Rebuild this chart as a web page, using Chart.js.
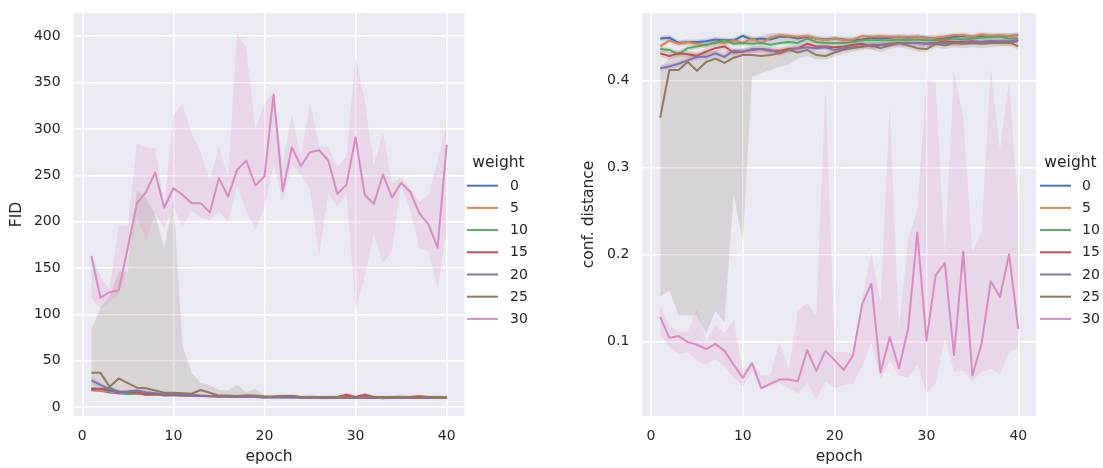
<!DOCTYPE html>
<html>
<head>
<meta charset="utf-8">
<script src="https://cdn.jsdelivr.net/npm/chart.js@4.4.1/dist/chart.umd.min.js"></script>
<style>
  body { margin: 0; background: #fff; width: 1103px; height: 468px; overflow: hidden; position: relative; }
  canvas { position: absolute; top: 0; }
</style>
</head>
<body>
<canvas id="fidChart" width="560" height="468" style="left:0"></canvas>
<canvas id="confChart" width="543" height="468" style="left:560px"></canvas>
<script>
const epochs = [1,2,3,4,5,6,7,8,9,10,11,12,13,14,15,16,17,18,19,20,21,22,23,24,25,26,27,28,29,30,31,32,33,34,35,36,37,38,39,40];
const weights = ['0', '5', '10', '15', '20', '25', '30'];
const colors = ['#4c72b0', '#dd8452', '#55a868', '#c44e52', '#8172b3', '#937860', '#da8bc3'];
const xTicks = [0, 10, 20, 30, 40];
const fidTicks = [0, 50, 100, 150, 200, 250, 300, 350, 400];
const confTicks = [0.1, 0.2, 0.3, 0.4];

// FID (left panel): mean, lower and upper band per weight
const fid0   = [18.5,18,16,15,14.5,15,13.5,13.5,13,13,12.5,12.5,12,12,11.5,11.5,11,11.5,11,11,11,10.5,11,10.5,10.5,10.5,10.5,10,10.5,10.5,10,10.5,10,10,10.5,10,10,10,10,10];
const fid0Lo = [17,16.5,14.5,13.5,13,13.5,12.5,12.5,11.5,12,11.5,11.5,11,11,10.5,10.5,10,10.5,10,10,10,9.5,10,9.5,9.5,9.5,9.5,9,9.5,9.5,9,9.5,9,9,9.5,9,9,9,9,9];
const fid0Hi = [20,19.5,17.5,16.5,16,16.5,15,15,16,14.5,13.5,13.5,13,13,12.5,12.5,12,12.5,12,12,12,11.5,12,11.5,11.5,11.5,11.5,11,11.5,11.5,11,11.5,11,11,11.5,11,11,11,11,11];
const fid5   = [19,18,17,15.5,15,14.5,14,13.5,13,13.5,13,12.5,12,11.5,11.5,12,11,11,11.5,10.5,11,11,11.5,11,11,10.5,11,10.5,11,11,11,11,10.5,11,11,11,11.5,11,10.5,11];
const fid5Lo = [17.5,16.5,15.5,14,13.5,13,12.5,12,12,12.5,12,11.5,11,10.5,10.5,11,10,10,10.5,9.5,10,10,10.5,10,10,9.5,10,9.5,10,10,10,10,9.5,10,10,10,10.5,10,9.5,10];
const fid5Hi = [20.5,19.5,19,17,16.5,16,15.5,15,14,14.5,14,13.5,13,12.5,12.5,13,12,12,12.5,11.5,12,12,12.5,12,12,11.5,12,11.5,12,12,12,12,11.5,12,12,12,12.5,12,11.5,12];
const fid10   = [20,19.5,21,16.5,14.5,15,14,14,13,13,13,12.5,12,12,12,11.5,11.5,11,11.5,11,11,11,11.5,11,11,10.5,10.5,11,11,10.5,10.5,10.5,9.5,10.5,10.5,10.5,10.5,10.5,10.5,10.5];
const fid10Lo = [18.5,18,19,15,13,13.5,12.5,12.5,12,12,12,11.5,11,11,11,10.5,10.5,10,10.5,10,10,10,10.5,10,10,9.5,9.5,10,10,9.5,9.5,9.5,8.5,9.5,9.5,9.5,9.5,9.5,9.5,9.5];
const fid10Hi = [21.5,21,23,18,16,16.5,15.5,15.5,14,14,14,13.5,13,13,13,12.5,12.5,12,12.5,12,12,12,12.5,12,12,11.5,11.5,12,12,11.5,11.5,11.5,10.5,11.5,11.5,11.5,11.5,11.5,11.5,11.5];
const fid15   = [20,19.5,18,17,16.5,16,14,14.5,13.5,13.5,13,12.5,12,12,12,12,11.5,12,11,11,11,11.5,11.5,10.5,11,11,11,11,13.5,11,13.5,11,11,11,11,11,11.5,11,11,11];
const fid15Lo = [18.5,18,16.5,15.5,15,14.5,12.5,13,12.5,12.5,12,11.5,11,11,11,11,10.5,11,10,10,10,10.5,10.5,9.5,10,10,10,10,11.5,10,11.5,10,10,10,10,10,10.5,10,10,10];
const fid15Hi = [21.5,21,19.5,18.5,18,17.5,15.5,16,14.5,14.5,14,13.5,13,13,13,13,12.5,13,12,12,12,12.5,12.5,11.5,12,12,12,12,15.5,12,15.5,12,12,12,12,12,12.5,12,12,12];
const fid20   = [29,24,19,15.5,17,18,16,15,14,14,13.5,13,12.5,12,11.5,11.5,11,11,11,10.5,10.5,11,10.5,10.5,10,10.5,10,10,10,10,10,10,10,10,10,10,10,10,10,10];
const fid20Lo = [25,21,17,14,15.5,16.5,14.5,13.5,13,13,12.5,12,11.5,11,10.5,10.5,10,10,10,9.5,9.5,10,9.5,9.5,9,9.5,9,9,9,9,9,9,9,9,9,9,9,9,9,9];
const fid20Hi = [33,27,21,17,18.5,19.5,17.5,16.5,15,15,14.5,14,13.5,13,12.5,12.5,12,12,12,11.5,11.5,12,11.5,11.5,11,11.5,11,11,11,11,11,11,11,11,11,11,11,11,11,11];
const fid25   = [37,37,22,31,26,21,20.5,18,15.5,15.5,15,14.5,18.5,15.5,12.5,12.5,12,13,12.5,11.5,11.5,12,12,11,11,10.5,11,11,11,11,11.5,11,10.5,11,11,11,10,11,11,11];
const fid25Lo = [17,16,16,15,14,14,13.5,13,12.5,12.5,12.5,12,12,12,11,11,10.5,11,10.5,10,10,10.5,10.5,9.5,9.5,9.5,9.5,9.5,9.5,9.5,10,9.5,9.5,9.5,9.5,9.5,8.5,9.5,9.5,9.5];
const fid25Hi = [84,107,120,146,146,234,226,208,171,224,66,37,26,24,18.5,18.5,24,16,19.5,13.5,13.5,14,14,13,14,12,12.5,12.5,12.5,12.5,13,12.5,12,12.5,14,12.5,12,13,12.5,12];
const fid30   = [163,118,124,126,172,220,232,253,215,236,229,220,220,210,247,227,256,266,239,249,337,233,280,260,275,277,266,230,240,291,229,219,251,226,242,232,209,197,172,283];
const fid30Lo = [118,106,113,122,150,205,180,209,193,216,195,212,204,202,211,200,238,212,191,215,263,222,262,250,234,164,230,216,229,107,141,187,155,169,240,212,171,168,127,193];
const fid30Hi = [166,140,127,196,195,284,280,279,218,315,327,295,274,245,281,248,403,387,300,327,340,262,315,270,329,281,281,259,270,378,331,261,296,241,248,236,221,229,266,306];

// conf. distance (right panel)
const conf0   = [0.448,0.449,0.443,0.444,0.444,0.445,0.447,0.446,0.446,0.451,0.447,0.448,0.447,0.450,0.450,0.448,0.450,0.448,0.447,0.448,0.447,0.446,0.447,0.449,0.448,0.449,0.450,0.449,0.450,0.449,0.448,0.449,0.450,0.451,0.450,0.451,0.451,0.451,0.451,0.452];
const conf0Lo = [0.445,0.446,0.440,0.441,0.441,0.442,0.444,0.443,0.443,0.447,0.444,0.445,0.444,0.446,0.446,0.445,0.447,0.445,0.444,0.445,0.444,0.443,0.444,0.446,0.445,0.446,0.447,0.446,0.447,0.446,0.445,0.446,0.447,0.448,0.447,0.448,0.448,0.448,0.448,0.449];
const conf0Hi = [0.451,0.452,0.446,0.447,0.447,0.448,0.450,0.449,0.449,0.454,0.450,0.451,0.454,0.454,0.453,0.451,0.453,0.451,0.450,0.451,0.450,0.449,0.450,0.452,0.451,0.452,0.453,0.452,0.453,0.452,0.451,0.452,0.453,0.454,0.453,0.454,0.454,0.454,0.454,0.455];
const conf5   = [0.439,0.446,0.442,0.444,0.442,0.440,0.444,0.443,0.446,0.443,0.448,0.443,0.449,0.452,0.451,0.450,0.451,0.448,0.446,0.448,0.446,0.447,0.451,0.450,0.451,0.450,0.450,0.450,0.450,0.448,0.449,0.450,0.452,0.452,0.450,0.453,0.451,0.452,0.451,0.452];
const conf5Lo = [0.436,0.443,0.439,0.441,0.439,0.437,0.441,0.440,0.443,0.440,0.445,0.440,0.446,0.449,0.448,0.447,0.448,0.445,0.443,0.445,0.443,0.444,0.448,0.447,0.448,0.447,0.447,0.447,0.447,0.445,0.446,0.447,0.449,0.449,0.447,0.450,0.448,0.449,0.448,0.449];
const conf5Hi = [0.442,0.449,0.445,0.447,0.445,0.443,0.447,0.446,0.449,0.446,0.451,0.446,0.452,0.455,0.454,0.453,0.454,0.451,0.449,0.451,0.449,0.450,0.454,0.453,0.454,0.453,0.453,0.453,0.453,0.451,0.452,0.453,0.455,0.455,0.453,0.456,0.454,0.455,0.454,0.455];
const conf10   = [0.436,0.435,0.430,0.437,0.439,0.441,0.443,0.446,0.442,0.443,0.442,0.443,0.441,0.443,0.444,0.443,0.448,0.444,0.443,0.443,0.443,0.444,0.446,0.446,0.446,0.446,0.447,0.446,0.447,0.446,0.446,0.447,0.448,0.447,0.448,0.449,0.450,0.450,0.448,0.448];
const conf10Lo = [0.433,0.432,0.427,0.434,0.436,0.438,0.440,0.443,0.439,0.440,0.439,0.440,0.438,0.440,0.441,0.440,0.445,0.441,0.440,0.440,0.440,0.441,0.443,0.443,0.443,0.443,0.444,0.443,0.444,0.443,0.443,0.444,0.445,0.444,0.445,0.446,0.447,0.447,0.445,0.445];
const conf10Hi = [0.439,0.438,0.433,0.440,0.442,0.444,0.446,0.449,0.445,0.446,0.445,0.446,0.444,0.446,0.447,0.446,0.451,0.447,0.446,0.446,0.446,0.447,0.449,0.449,0.449,0.449,0.450,0.449,0.450,0.449,0.449,0.450,0.451,0.450,0.451,0.452,0.453,0.453,0.451,0.451];
const conf15   = [0.431,0.428,0.431,0.430,0.428,0.433,0.437,0.439,0.432,0.433,0.435,0.436,0.434,0.434,0.436,0.437,0.442,0.439,0.439,0.438,0.439,0.441,0.442,0.439,0.441,0.442,0.443,0.443,0.443,0.442,0.443,0.445,0.444,0.444,0.445,0.444,0.445,0.444,0.443,0.446];
const conf15Lo = [0.427,0.424,0.427,0.426,0.424,0.429,0.433,0.435,0.428,0.429,0.431,0.432,0.430,0.430,0.432,0.433,0.438,0.435,0.435,0.434,0.435,0.437,0.438,0.435,0.437,0.438,0.439,0.439,0.439,0.438,0.439,0.441,0.440,0.440,0.441,0.440,0.441,0.440,0.439,0.442];
const conf15Hi = [0.435,0.432,0.435,0.434,0.432,0.437,0.441,0.443,0.436,0.437,0.439,0.440,0.438,0.438,0.440,0.441,0.446,0.443,0.443,0.442,0.443,0.445,0.446,0.443,0.445,0.446,0.447,0.447,0.447,0.446,0.447,0.449,0.448,0.448,0.449,0.448,0.449,0.448,0.447,0.450];
const conf20   = [0.414,0.416,0.419,0.423,0.427,0.427,0.431,0.427,0.434,0.433,0.436,0.436,0.435,0.431,0.435,0.437,0.438,0.437,0.438,0.435,0.437,0.438,0.439,0.441,0.441,0.441,0.443,0.443,0.443,0.442,0.443,0.443,0.443,0.443,0.444,0.444,0.445,0.445,0.445,0.446];
const conf20Lo = [0.411,0.413,0.416,0.420,0.424,0.424,0.428,0.424,0.431,0.430,0.433,0.433,0.432,0.428,0.432,0.434,0.435,0.434,0.435,0.432,0.434,0.435,0.436,0.438,0.438,0.438,0.440,0.440,0.440,0.439,0.440,0.440,0.440,0.440,0.441,0.441,0.442,0.442,0.442,0.443];
const conf20Hi = [0.417,0.419,0.422,0.426,0.430,0.430,0.434,0.430,0.437,0.436,0.439,0.439,0.438,0.434,0.438,0.440,0.441,0.440,0.441,0.438,0.440,0.441,0.442,0.444,0.444,0.444,0.446,0.446,0.446,0.445,0.446,0.446,0.446,0.446,0.447,0.447,0.448,0.448,0.448,0.449];
const conf25   = [0.357,0.412,0.412,0.421,0.411,0.421,0.425,0.420,0.426,0.429,0.429,0.428,0.429,0.431,0.435,0.432,0.435,0.429,0.428,0.432,0.435,0.437,0.439,0.440,0.437,0.440,0.443,0.440,0.437,0.436,0.442,0.440,0.443,0.442,0.443,0.442,0.443,0.443,0.444,0.439];
const conf25Lo = [0.151,0.159,0.130,0.130,0.130,0.108,0.135,0.122,0.270,0.214,0.404,0.408,0.412,0.416,0.418,0.425,0.428,0.424,0.424,0.427,0.430,0.433,0.435,0.436,0.432,0.436,0.438,0.436,0.433,0.432,0.438,0.436,0.438,0.437,0.438,0.437,0.438,0.439,0.440,0.435];
const conf25Hi = [0.415,0.426,0.430,0.432,0.432,0.433,0.434,0.433,0.435,0.436,0.434,0.433,0.434,0.436,0.439,0.437,0.439,0.434,0.433,0.436,0.439,0.441,0.443,0.444,0.441,0.444,0.447,0.444,0.441,0.440,0.446,0.444,0.447,0.446,0.447,0.446,0.447,0.447,0.448,0.443];
const conf30   = [0.128,0.104,0.106,0.099,0.096,0.091,0.097,0.089,0.073,0.058,0.075,0.046,0.051,0.056,0.056,0.054,0.090,0.066,0.089,0.078,0.067,0.084,0.143,0.166,0.064,0.105,0.069,0.114,0.225,0.101,0.176,0.190,0.084,0.203,0.061,0.097,0.169,0.151,0.200,0.114];
const conf30Lo = [0.107,0.094,0.085,0.087,0.078,0.073,0.080,0.071,0.058,0.048,0.066,0.045,0.048,0.052,0.046,0.040,0.052,0.033,0.054,0.046,0.050,0.051,0.071,0.098,0.056,0.077,0.061,0.058,0.073,0.040,0.052,0.104,0.065,0.066,0.054,0.065,0.068,0.062,0.087,0.093];
const conf30Hi = [0.141,0.117,0.111,0.111,0.137,0.100,0.119,0.109,0.125,0.065,0.076,0.061,0.061,0.099,0.067,0.136,0.144,0.128,0.395,0.087,0.088,0.086,0.150,0.203,0.144,0.370,0.113,0.217,0.251,0.402,0.396,0.200,0.411,0.357,0.203,0.226,0.414,0.320,0.400,0.250];

const fidMeans = [fid0, fid5, fid10, fid15, fid20, fid25, fid30];
const fidLows  = [fid0Lo, fid5Lo, fid10Lo, fid15Lo, fid20Lo, fid25Lo, fid30Lo];
const fidHighs = [fid0Hi, fid5Hi, fid10Hi, fid15Hi, fid20Hi, fid25Hi, fid30Hi];
const confMeans = [conf0, conf5, conf10, conf15, conf20, conf25, conf30];
const confLows  = [conf0Lo, conf5Lo, conf10Lo, conf15Lo, conf20Lo, conf25Lo, conf30Lo];
const confHighs = [conf0Hi, conf5Hi, conf10Hi, conf15Hi, conf20Hi, conf25Hi, conf30Hi];

const textColor = '#262626';
const fontFamily = '"DejaVu Sans", sans-serif';

function pts(arr) {
  return epochs.map((e, i) => ({ x: e, y: arr[i] }));
}

function withAlpha(hex, a) {
  const n = parseInt(hex.slice(1), 16);
  return 'rgba(' + (n >> 16) + ',' + ((n >> 8) & 255) + ',' + (n & 255) + ',' + a + ')';
}

// bands (order 1) are drawn under all lines (order 0); last weight ends on top
function buildDatasets(means, lows, highs) {
  const ds = [];
  for (let i = weights.length - 1; i >= 0; i--) {
    ds.push({ label: weights[i], data: pts(means[i]), borderColor: colors[i], borderWidth: 2,
      borderJoinStyle: 'round', pointRadius: 0, fill: false, order: 0 });
    ds.push({ data: pts(highs[i]), borderWidth: 0, pointRadius: 0, fill: '+1',
      backgroundColor: withAlpha(colors[i], 0.2), order: 1 });
    ds.push({ data: pts(lows[i]), borderWidth: 0, pointRadius: 0, fill: false, order: 1 });
  }
  return ds;
}

const panelBg = {
  id: 'panelBg',
  beforeDraw(chart) {
    const a = chart.chartArea, ctx = chart.ctx;
    ctx.save();
    ctx.fillStyle = '#eaeaf2';
    ctx.fillRect(a.left, a.top, a.right - a.left, a.bottom - a.top);
    ctx.restore();
  }
};

function weightLegend(lineX, labelX, titleX) {
  return {
    id: 'weightLegend',
    afterDraw(chart) {
      const ctx = chart.ctx;
      ctx.save();
      ctx.fillStyle = textColor;
      ctx.textBaseline = 'middle';
      ctx.textAlign = 'center';
      ctx.font = '15.5px ' + fontFamily;
      ctx.fillText('weight', titleX, 163);
      ctx.textAlign = 'left';
      ctx.font = '14px ' + fontFamily;
      weights.forEach((w, i) => {
        const y = 185.7 + i * 22.2;
        ctx.strokeStyle = colors[i];
        ctx.lineWidth = 2;
        ctx.beginPath();
        ctx.moveTo(lineX, y);
        ctx.lineTo(lineX + 31, y);
        ctx.stroke();
        ctx.fillText(w, labelX, y + 0.5);
      });
      ctx.restore();
    }
  };
}

function panelOptions(cfg) {
  return {
    responsive: false,
    animation: false,
    events: [],
    layout: { padding: { left: 0, right: cfg.padRight, top: 13, bottom: 0 } },
    plugins: { legend: { display: false }, tooltip: { enabled: false } },
    scales: {
      x: {
        type: 'linear', min: -0.95, max: 41.95,
        afterBuildTicks: s => { s.ticks = xTicks.map(v => ({ value: v })); },
        afterFit: s => { s.height = 52; s.paddingLeft = 0; s.paddingRight = 0; },
        grid: { color: '#ffffff', lineWidth: 1.5, drawTicks: false },
        border: { display: false },
        ticks: { color: textColor, font: { family: fontFamily, size: 14 }, padding: 12, maxRotation: 0 },
        title: { display: true, text: 'epoch', color: textColor,
          font: { family: fontFamily, size: 15.5 }, padding: { top: 0, bottom: 2 } }
      },
      y: {
        type: 'linear', min: cfg.yMin, max: cfg.yMax,
        afterBuildTicks: s => { s.ticks = cfg.yTicks.map(v => ({ value: v })); },
        afterFit: s => { s.width = cfg.yWidth; s.paddingTop = 0; s.paddingBottom = 0; },
        grid: { color: '#ffffff', lineWidth: 1.5, drawTicks: false },
        border: { display: false },
        ticks: { color: textColor, font: { family: fontFamily, size: 14 }, padding: 13 },
        title: { display: true, text: cfg.yTitle, color: textColor,
          font: { family: fontFamily, size: 15.5 }, padding: { top: cfg.yTitlePad, bottom: 0 } }
      }
    }
  };
}

new Chart(document.getElementById('fidChart').getContext('2d'), {
  type: 'line',
  data: { datasets: buildDatasets(fidMeans, fidLows, fidHighs) },
  options: panelOptions({ yMin: -9.5, yMax: 425, yTicks: fidTicks, yTitle: 'FID',
    yWidth: 73.6, yTitlePad: 8, padRight: 95.5 }),
  plugins: [panelBg, weightLegend(467, 510, 498.5)]
});

new Chart(document.getElementById('confChart').getContext('2d'), {
  type: 'line',
  data: { datasets: buildDatasets(confMeans, confLows, confHighs) },
  options: panelOptions({ yMin: 0.0141, yMax: 0.4774, yTicks: confTicks, yTitle: 'conf. distance',
    yWidth: 82.3, yTitlePad: 20, padRight: 66.8 }),
  plugins: [panelBg, weightLegend(480, 522, 510.5)]
});
</script>
</body>
</html>
